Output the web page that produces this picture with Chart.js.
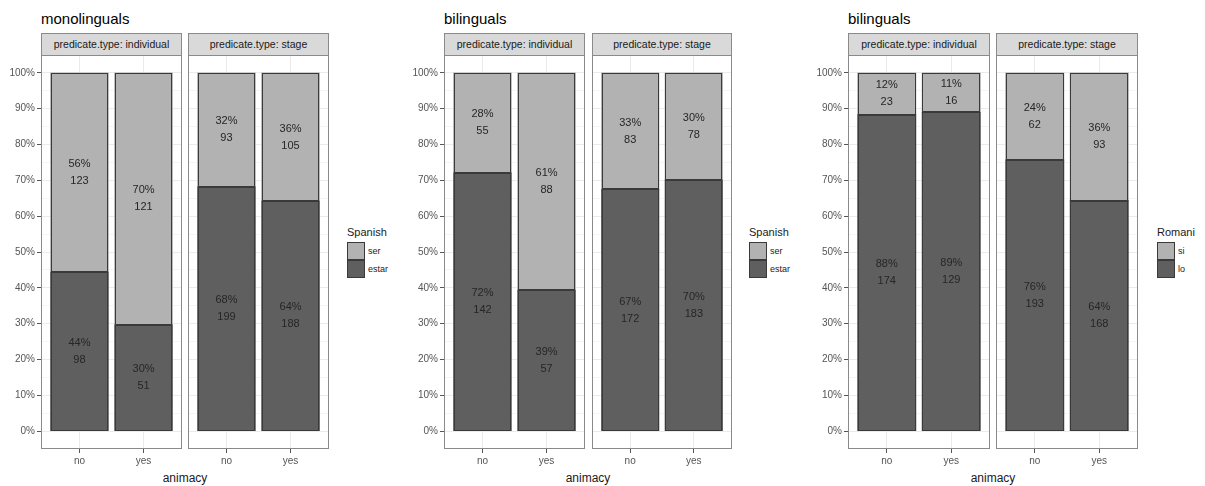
<!DOCTYPE html>
<html>
<head>
<meta charset="utf-8">
<script src="https://cdn.jsdelivr.net/npm/chart.js@4.4.1/dist/chart.umd.min.js"></script>
<style>
  html, body { margin: 0; padding: 0; background: #ffffff; }
  body { width: 1205px; height: 486px; position: relative; overflow: hidden;
         font-family: "Liberation Sans", Arial, sans-serif; }
  .abs { position: absolute; }
  .title { font-size: 15px; color: #000; line-height: 15px; white-space: nowrap; }
  .strip { box-sizing: border-box; height: 23px; background: #d9d9d9; border: 1px solid #8a8a8a;
           font-size: 10.5px; color: #1a1a1a; text-align: center; line-height: 21px; white-space: nowrap; }
  .xtitle { font-size: 12px; color: #1a1a1a; line-height: 14px; white-space: nowrap; transform: translateX(-50%); }
  .legtitle { font-size: 11px; color: #1a1a1a; line-height: 12px; white-space: nowrap; }
  .key { box-sizing: border-box; width: 18px; height: 18px; border: 1px solid #3a3a3a; }
  .keylab { font-size: 9px; color: #1a1a1a; line-height: 10px; white-space: nowrap; }
  canvas { position: absolute; }
</style>
</head>
<body>
<script>
// ---------------- DATA ----------------
const animacy = ['no', 'yes'];
const predicateTypes = ['individual', 'stage'];
const panelTitles = ['monolinguals', 'bilinguals', 'bilinguals'];
const legendTitles = ['Spanish', 'Spanish', 'Romani'];
const legendLabels = [['ser', 'estar'], ['ser', 'estar'], ['si', 'lo']];

// counts, order: [individual-no, individual-yes, stage-no, stage-yes]
const monoSer   = [123, 121, 93, 105];
const monoEstar = [98, 51, 199, 188];
const biSer     = [55, 88, 83, 78];
const biEstar   = [142, 57, 172, 183];
const romSi     = [23, 16, 62, 93];
const romLo     = [174, 129, 193, 168];

const yBreaks = [0, 0.1, 0.2, 0.3, 0.4, 0.5, 0.6, 0.7, 0.8, 0.9, 1.0];
const yMinorBreaks = [0.05, 0.15, 0.25, 0.35, 0.45, 0.55, 0.65, 0.75, 0.85, 0.95];
const yTickLabels = ['0%', '10%', '20%', '30%', '40%', '50%', '60%', '70%', '80%', '90%', '100%'];

// ---------------- LAYOUT / STYLE ----------------
const FONT = '"Liberation Sans", Arial, sans-serif';
const LIGHT = '#b2b2b2';
const DARK = '#5f5f5f';
const OUTLINE = '#3a3a3a';
const panels = [
  { top: monoSer, bottom: monoEstar, facets: [[41, 141], [188, 141]], legendX: 347 },
  { top: biSer,   bottom: biEstar,   facets: [[444, 141], [592, 140]], legendX: 749 },
  { top: romSi,   bottom: romLo,     facets: [[848, 142], [996, 142]], legendX: 1157 }
];
const PANEL_TOP = 55, PANEL_H = 394, XAXIS_H = 26, YAXIS_W = 45;

function el(cls, txt, css) {
  const d = document.createElement('div');
  d.className = 'abs ' + cls;
  if (txt !== null) d.textContent = txt;
  Object.assign(d.style, css);
  document.body.appendChild(d);
  return d;
}

const allYTicks = yBreaks.concat(yMinorBreaks).sort((a, b) => a - b);
function majorIndex(v) {
  for (let i = 0; i < yBreaks.length; i++) if (Math.abs(yBreaks[i] - v) < 1e-6) return i;
  return -1;
}

function makePlugin(counts) {
  return {
    id: 'panelDecor',
    afterDatasetsDraw(chart) {
      const ctx = chart.ctx;
      ctx.save();
      // bar outlines, centred on the bar edges
      ctx.strokeStyle = OUTLINE;
      ctx.lineWidth = 1;
      chart.data.datasets.forEach((ds, di) => {
        chart.getDatasetMeta(di).data.forEach(bar => {
          const l = Math.round(bar.x - bar.width / 2) + 0.5;
          const r = Math.round(bar.x + bar.width / 2) - 0.5;
          const t = Math.round(Math.min(bar.y, bar.base)) + 0.5;
          const b = Math.round(Math.max(bar.y, bar.base)) - 0.5;
          ctx.strokeRect(l, t, r - l, b - t);
        });
      });
      // labels
      ctx.font = '11px ' + FONT;
      ctx.fillStyle = '#262626';
      ctx.textAlign = 'center';
      ctx.textBaseline = 'middle';
      chart.data.datasets.forEach((ds, di) => {
        const meta = chart.getDatasetMeta(di);
        meta.data.forEach((bar, i) => {
          const c = counts[di][i];
          const total = counts[0][i] + counts[1][i];
          const pct = Math.round(100 * c / total) + '%';
          const cy = (bar.y + bar.base) / 2;
          ctx.fillText(pct, bar.x, cy - 8.5);
          ctx.fillText(String(c), bar.x, cy + 8.5);
        });
      });
      ctx.restore();
    },
    afterDraw(chart) {
      const a = chart.chartArea;
      const ctx = chart.ctx;
      ctx.save();
      ctx.strokeStyle = '#8a8a8a';
      ctx.lineWidth = 1;
      ctx.strokeRect(a.left + 0.5, a.top + 0.5, a.right - a.left - 1, a.bottom - a.top - 1);
      ctx.restore();
    }
  };
}

panels.forEach((p, pi) => {
  el('title', panelTitles[pi], { left: p.facets[0][0] + 'px', top: '11px' });
  const cx = (p.facets[0][0] + p.facets[1][0] + p.facets[1][1]) / 2;
  el('xtitle', 'animacy', { left: cx + 'px', top: '471px' });
  el('legtitle', legendTitles[pi], { left: p.legendX + 'px', top: '226px' });
  el('key', null, { left: p.legendX + 'px', top: '242px', background: LIGHT });
  el('key', null, { left: p.legendX + 'px', top: '260px', background: DARK });
  el('keylab', legendLabels[pi][0], { left: (p.legendX + 21) + 'px', top: '246px' });
  el('keylab', legendLabels[pi][1], { left: (p.legendX + 21) + 'px', top: '264px' });

  p.facets.forEach((f, fi) => {
    const [fx, fw] = f;
    el('strip', 'predicate.type: ' + predicateTypes[fi], { left: fx + 'px', top: '33px', width: fw + 'px' });
    const first = fi === 0;
    const yw = first ? YAXIS_W : 0;
    const cv = document.createElement('canvas');
    cv.width = fw + yw; cv.height = PANEL_H + XAXIS_H;
    cv.style.left = (fx - yw) + 'px';
    cv.style.top = PANEL_TOP + 'px';
    cv.style.width = cv.width + 'px';
    cv.style.height = cv.height + 'px';
    document.body.appendChild(cv);

    const idx = [fi * 2, fi * 2 + 1];
    const bottomCounts = idx.map(i => p.bottom[i]);
    const topCounts = idx.map(i => p.top[i]);
    const totals = idx.map((i, k) => bottomCounts[k] + topCounts[k]);

    new Chart(cv, {
      type: 'bar',
      data: {
        datasets: [
          { data: bottomCounts.map((c, k) => ({ x: k, y: c / totals[k] })),
            backgroundColor: DARK, borderWidth: 0, inflateAmount: 0.5,
            barPercentage: 0.9, categoryPercentage: 1.0 },
          { data: topCounts.map((c, k) => ({ x: k, y: c / totals[k] })),
            backgroundColor: LIGHT, borderWidth: 0, inflateAmount: 0.5,
            barPercentage: 0.9, categoryPercentage: 1.0 }
        ]
      },
      options: {
        responsive: false,
        animation: false,
        devicePixelRatio: 1,
        layout: { padding: 0 },
        plugins: { legend: { display: false }, tooltip: { enabled: false }, title: { display: false } },
        scales: {
          x: {
            type: 'linear', min: -0.6, max: 1.6, stacked: true, offset: false,
            afterBuildTicks: s => { s.ticks = [{ value: 0 }, { value: 1 }]; },
            afterFit: s => { s.height = XAXIS_H; s.paddingLeft = 0; s.paddingRight = 0; },
            grid: { offset: false, color: '#ebebeb', lineWidth: 1, tickColor: '#555', tickLength: 4, drawTicks: true },
            border: { display: false },
            ticks: { callback: v => animacy[Math.round(v)], autoSkip: false, maxRotation: 0, padding: 2,
                     font: { family: FONT, size: 10 }, color: '#555' }
          },
          y: {
            type: 'linear', min: -0.05, max: 1.05, stacked: true,
            afterBuildTicks: s => { s.ticks = allYTicks.map(v => ({ value: v })); },
            afterFit: s => { s.width = yw; s.paddingTop = 0; s.paddingBottom = 0; },
            grid: {
              color: c => (c.tick && majorIndex(c.tick.value) >= 0) ? '#ebebeb' : '#f5f5f5',
              tickColor: c => (c.tick && majorIndex(c.tick.value) >= 0) ? '#555' : 'rgba(0,0,0,0)',
              lineWidth: 1, tickLength: 4, drawTicks: first
            },
            border: { display: false },
            ticks: {
              display: first, autoSkip: false, padding: 2,
              callback: v => { const i = majorIndex(v); return i >= 0 ? yTickLabels[i] : ''; },
              font: { family: FONT, size: 10 }, color: '#555'
            }
          }
        }
      },
      plugins: [makePlugin([bottomCounts, topCounts])]
    });
  });
});
</script>
</body>
</html>
